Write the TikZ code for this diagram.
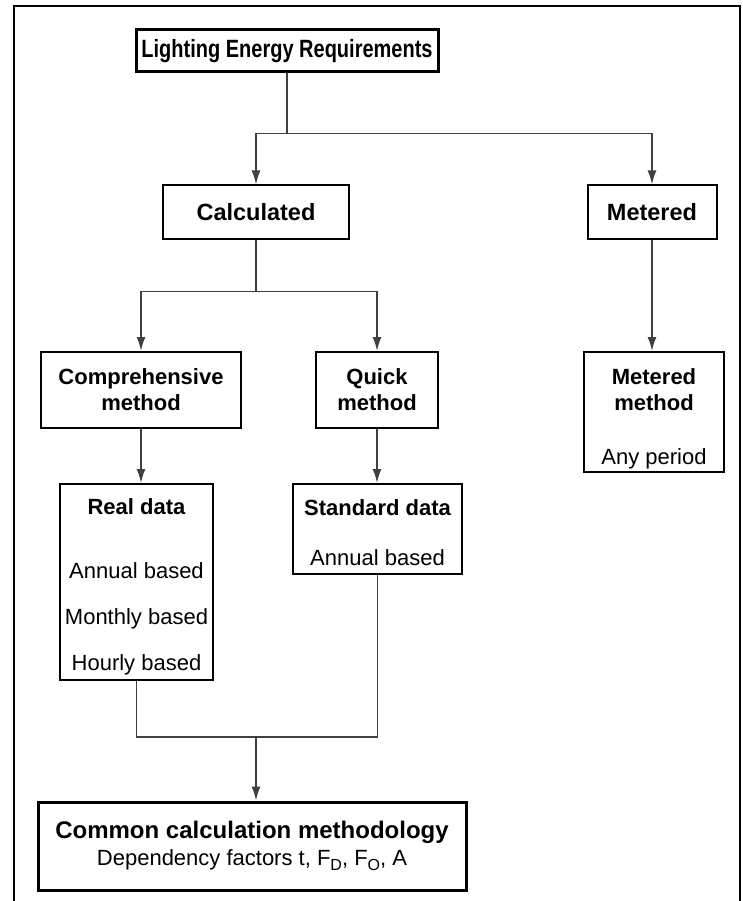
\documentclass[tikz,border=0pt]{standalone}
\usepackage{fontspec}
\setmainfont{Liberation Sans}
\newfontfamily\titlefont[FakeStretch=0.8]{Liberation Sans}
\usetikzlibrary{arrows.meta,calc}
\newcommand{\lowsub}[1]{\raisebox{-0.45ex}{\fontsize{16}{16}\selectfont #1}}
\begin{document}
\begin{tikzpicture}[x=1pt,y=-1pt,
  box/.style={draw=black, line width=2pt, inner sep=0pt, align=center,
    font=\fontsize{22}{26}\selectfont},
  bigbox/.style={box, line width=3pt},
  conn/.style={draw=black!75, line width=1.6pt},
  arr/.style={conn, -{Latex[length=14pt,width=9pt]}},
  frame/.style={draw=black, line width=2pt}]
\useasboundingbox (0,0) rectangle (742,901);
\draw[frame] (14,901) -- (14,6) -- (740,6) -- (740,901);

\node[bigbox, minimum width=302, minimum height=42] (title) at (287,51)
  {\fontsize{25}{30}\titlefont\bfseries Lighting Energy Requirements};
\node[box, minimum width=186, minimum height=53] (calc) at (256,212)
  {\fontsize{23.5}{28}\selectfont\bfseries Calculated};
\node[box, minimum width=129, minimum height=53] (meter) at (652,212)
  {\fontsize{23.5}{28}\selectfont\bfseries Metered};
\node[box, minimum width=200, minimum height=76] (comp) at (141,390)
  {\bfseries Comprehensive\\\bfseries method};
\node[box, minimum width=122, minimum height=76] (quick) at (377,390)
  {\bfseries Quick\\\bfseries method};
\node[box, minimum width=140, minimum height=120] (mmeth) at (654,412)
  {\rule{0pt}{30pt}\bfseries Metered\\\bfseries method\\[28pt]Any period};
\node[box, minimum width=153, minimum height=196] (real) at (136.5,582)
  {\rule{0pt}{25pt}\bfseries Real data\\[38pt]Annual based\\[20pt]Monthly based\\[20pt]Hourly based};
\node[box, minimum width=169, minimum height=90] (std) at (377.5,529)
  {\rule{0pt}{24pt}\bfseries Standard data\\[24pt]Annual based};
\node[bigbox, minimum width=428, minimum height=88] (common) at (252,846)
  {{\fontsize{24}{29}\selectfont\bfseries Common calculation methodology}\\[1pt]
   Dependency factors t, F\lowsub{D}, F\lowsub{O}, A};

\coordinate (j1) at ([yshift=-60pt]title.south);
\coordinate (j2) at ([yshift=-52pt]calc.south);
\coordinate (j3) at (256,737);
\draw[conn] (title.south) -- (j1);
\draw[arr] (j1) -| (calc.north);
\draw[arr] (j1) -| (meter.north);
\draw[conn] (calc.south) -- (j2);
\draw[arr] (j2) -| (comp.north);
\draw[arr] (j2) -| (quick.north);
\draw[arr] (meter.south) -- (meter.south |- mmeth.north);
\draw[arr] (comp.south) -- (comp.south |- real.north);
\draw[arr] (quick.south) -- (quick.south |- std.north);
\draw[conn] (real.south) |- (j3) -| (std.south);
\draw[arr] (j3) -- (j3 |- common.north);
\end{tikzpicture}
\end{document}
